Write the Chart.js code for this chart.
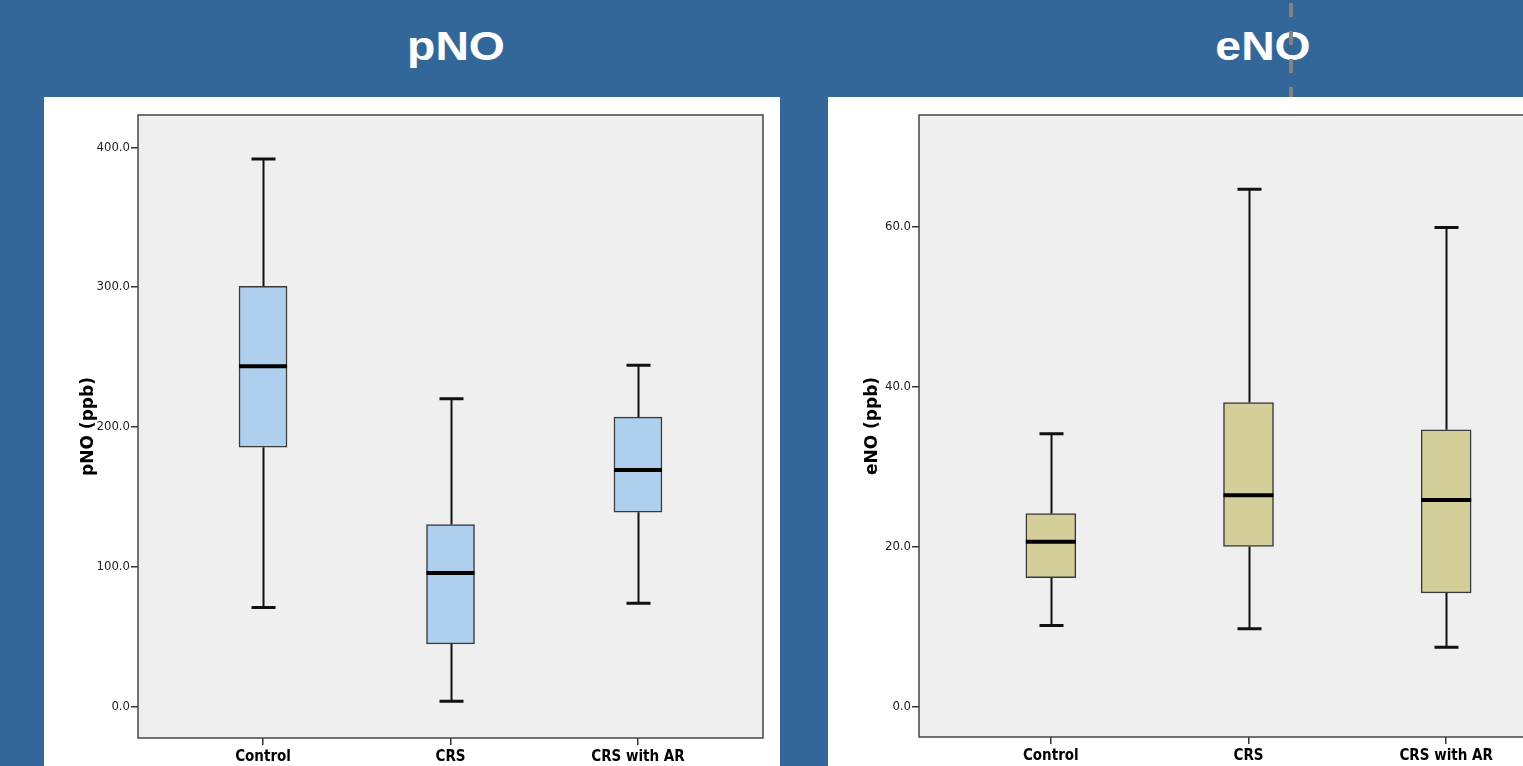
<!DOCTYPE html>
<html>
<head>
<meta charset="utf-8">
<script src="https://cdn.jsdelivr.net/npm/chart.js@4/dist/chart.umd.min.js"></script>
<style>
  html, body { margin: 0; padding: 0; }
  body {
    width: 1523px; height: 766px; overflow: hidden; position: relative;
    background: #346799; font-family: "Liberation Sans", Arial, sans-serif;
  }
  .title {
    position: absolute; top: 26px; width: 200px; text-align: center;
    color: #fff; font-weight: bold; font-size: 41px; line-height: 1;
    transform: scaleX(1.13);
  }
  .panel { position: absolute; top: 97px; height: 669px; background: #fff; }
  .dash {
    position: absolute; z-index: 5; left: 1289px; top: 3px; width: 4px; height: 94px;
    background: repeating-linear-gradient(to bottom, #828282 0 14px, transparent 14px 28px);
  }
</style>
</head>
<body>
<div class="title" style="left:356px">pNO</div>
<div class="title" style="left:1163px">eNO</div>
<div class="dash"></div>

<div class="panel" style="left:44px;width:736px">
  <canvas id="pnoChart" width="736" height="669"></canvas>
</div>
<div class="panel" style="left:828px;width:767px">
  <canvas id="enoChart" width="767" height="669"></canvas>
</div>

<script>
// values (SPSS box plots)
const categories = ['Control', 'CRS', 'CRS with AR'];

const pnoMin    = [70.7, 3.6, 73.7];
const pnoQ1     = [185.4, 44.6, 138.9];
const pnoMedian = [243.4, 95.4, 169.0];
const pnoQ3     = [300.5, 130.1, 206.9];
const pnoMax    = [391.6, 220.0, 244.1];
const pnoTicks  = [0, 100, 200, 300, 400];

const enoMin    = [10.1, 9.7, 7.4];
const enoQ1     = [16.1, 20.0, 14.2];
const enoMedian = [20.6, 26.4, 25.8];
const enoQ3     = [24.1, 38.0, 34.6];
const enoMax    = [34.1, 64.7, 59.9];
const enoTicks  = [0, 20, 40, 60];

const narrow = "'Liberation Sans Narrow', 'DejaVu Sans Condensed', sans-serif";

// whiskers, medians, plot background and frame
const boxWhisker = {
  id: 'boxWhisker',
  beforeDraw(chart, args, opts) {
    const { ctx, chartArea: a } = chart;
    ctx.save();
    ctx.fillStyle = '#efefef';
    ctx.fillRect(a.left, a.top, a.right - a.left, a.bottom - a.top);
    ctx.restore();
  },
  beforeDatasetsDraw(chart, args, opts) {
    const { ctx, scales: { x, y } } = chart;
    ctx.save();
    ctx.strokeStyle = '#111';
    opts.min.forEach((lo, i) => {
      const px = Math.round(x.getPixelForValue(i)) + 0.5;
      ctx.lineWidth = 2;
      ctx.beginPath();
      ctx.moveTo(px, y.getPixelForValue(opts.max[i]));
      ctx.lineTo(px, y.getPixelForValue(opts.q3[i]));
      ctx.moveTo(px, y.getPixelForValue(opts.q1[i]));
      ctx.lineTo(px, y.getPixelForValue(lo));
      ctx.stroke();
      ctx.lineWidth = 3;
      ctx.beginPath();
      [opts.max[i], lo].forEach(v => {
        const py = y.getPixelForValue(v);
        ctx.moveTo(px - 12, py);
        ctx.lineTo(px + 12, py);
      });
      ctx.stroke();
    });
    ctx.restore();
  },
  afterDatasetsDraw(chart, args, opts) {
    const { ctx, chartArea: a, scales: { x, y } } = chart;
    ctx.save();
    ctx.strokeStyle = '#000';
    ctx.lineWidth = 4;
    opts.median.forEach((m, i) => {
      const px = x.getPixelForValue(i);
      const py = y.getPixelForValue(m);
      ctx.beginPath();
      ctx.moveTo(px - opts.half, py);
      ctx.lineTo(px + opts.half, py);
      ctx.stroke();
    });
    ctx.strokeStyle = '#444';
    ctx.lineWidth = 1.5;
    ctx.strokeRect(a.left, a.top, a.right - a.left, a.bottom - a.top);
    ctx.restore();
  }
};

function makeBoxChart(id, cfg) {
  new Chart(document.getElementById(id), {
    type: 'bar',
    data: {
      datasets: [{
        data: categories.map((c, i) => ({ x: i, y: [cfg.q1[i], cfg.q3[i]] })),
        backgroundColor: cfg.fill,
        borderColor: '#3a3a3a',
        borderWidth: 1.5,
        borderSkipped: false,
        barThickness: cfg.boxWidth
      }]
    },
    options: {
      responsive: false,
      animation: false,
      layout: { padding: { top: 18, right: 17, left: 0, bottom: 0 } },
      plugins: {
        legend: { display: false },
        tooltip: { enabled: false },
        boxWhisker: {
          min: cfg.min, q1: cfg.q1, median: cfg.median, q3: cfg.q3, max: cfg.max,
          half: cfg.boxWidth / 2
        }
      },
      scales: {
        x: {
          type: 'linear',
          min: -0.667, max: 2.667,
          offset: false,
          afterFit: s => { s.height = cfg.xHeight; },
          afterBuildTicks: s => { s.ticks = categories.map((c, i) => ({ value: i })); },
          border: { display: false },
          grid: { offset: false, drawOnChartArea: false, drawTicks: true, tickLength: 7, color: '#333', lineWidth: 1.5 },
          ticks: {
            autoSkip: false, maxRotation: 0, padding: 3, color: '#000',
            font: { family: narrow, size: 15, weight: 'bold' },
            callback: v => categories[v]
          }
        },
        y: {
          min: cfg.yMin, max: cfg.yMax,
          afterFit: s => { s.width = cfg.yWidth; },
          afterBuildTicks: s => { s.ticks = cfg.ticks.map(v => ({ value: v })); },
          border: { display: false },
          grid: { drawOnChartArea: false, drawTicks: true, tickLength: 7, color: '#333', lineWidth: 1.5 },
          ticks: {
            padding: 1, color: '#222',
            font: { family: narrow, size: 13 },
            callback: v => v.toFixed(1)
          },
          title: {
            display: true, text: cfg.title, color: '#000',
            padding: { top: 34, bottom: 0 },
            font: { family: "'DejaVu Sans', sans-serif", size: 17, weight: 'bold' }
          }
        }
      }
    },
    plugins: [boxWhisker]
  });
}

makeBoxChart('pnoChart', {
  min: pnoMin, q1: pnoQ1, median: pnoMedian, q3: pnoQ3, max: pnoMax, ticks: pnoTicks,
  yMin: -22.7, yMax: 423.1, title: 'pNO (ppb)', fill: '#aed0ee',
  boxWidth: 48, yWidth: 94, xHeight: 28
});

makeBoxChart('enoChart', {
  min: enoMin, q1: enoQ1, median: enoMedian, q3: enoQ3, max: enoMax, ticks: enoTicks,
  yMin: -3.84, yMax: 73.98, title: 'eNO (ppb)', fill: '#d4cf98',
  boxWidth: 50, yWidth: 91, xHeight: 29
});
</script>
</body>
</html>
